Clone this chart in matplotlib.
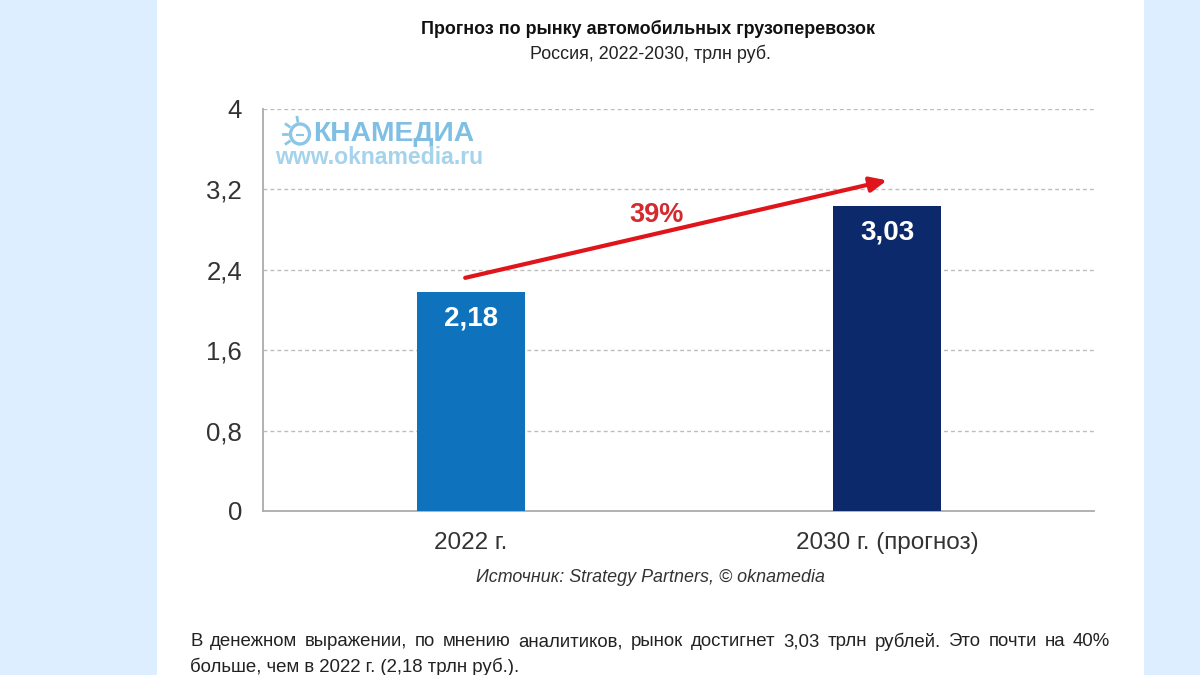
import matplotlib
matplotlib.use('Agg')
import matplotlib.pyplot as plt
from matplotlib.lines import Line2D
from matplotlib.patches import Ellipse, Rectangle
import math

plt.rcParams['font.family'] = ['Liberation Sans', 'DejaVu Sans']

categories = ['2022 г.', '2030 г. (прогноз)']
values = [2.18, 3.03]
value_labels = ['2,18', '3,03']
bar_colors = ['#0f72bd', '#0c2a6b']
y_ticks = [0, 0.8, 1.6, 2.4, 3.2, 4]
y_tick_labels = ['0', '0,8', '1,6', '2,4', '3,2', '4']
arrow_start = (-0.014, 2.32)
arrow_end = (1.0, 3.29)
arrow_label = '39%'
title = 'Прогноз по рынку автомобильных грузоперевозок'
subtitle = 'Россия, 2022-2030, трлн руб.'
source = 'Источник: Strategy Partners, © oknamedia'
para_line1 = 'В денежном выражении, по мнению аналитиков, рынок достигнет 3,03 трлн рублей. Это почти на 40%'
para_line2 = 'больше, чем в 2022 г. (2,18 трлн руб.).'

W, H = 1200, 675
fig = plt.figure(figsize=(12, 6.75), dpi=100, facecolor='#dceeff')


def fx(px):
    return px / W


def fy(py):
    return 1 - py / H


# white page panel
fig.add_artist(Rectangle((fx(157), 0), fx(1144 - 157), 1, transform=fig.transFigure,
                         facecolor='white', edgecolor='none', zorder=0))

ax = fig.add_axes([fx(263), fy(511), fx(1094 - 263), (511 - 109) / H])
ax.patch.set_alpha(0)
ax.set_xlim(-0.5, 1.4976)
ax.set_ylim(0, 4)

ax.bar([0, 1], values, width=0.26, color=bar_colors, zorder=3)
for i, lab in enumerate(value_labels):
    ax.text(i, values[i] - 0.26, lab, color='white', fontsize=20, fontweight='bold',
            ha='center', va='center', zorder=4)

for t in y_ticks[1:]:
    ax.axhline(t, color='#bdbdbd', lw=1.0, ls=(0, (2.8, 2.2)), zorder=1)

for s in ['top', 'right']:
    ax.spines[s].set_visible(False)
for s in ['left', 'bottom']:
    ax.spines[s].set_color('#ababab')
    ax.spines[s].set_linewidth(1.3)

ax.set_yticks(y_ticks)
ax.set_yticklabels(y_tick_labels, fontsize=18.5, color='#333333')
ax.set_xticks([0, 1])
ax.set_xticklabels(categories, fontsize=17.5, color='#333333')
ax.tick_params(axis='both', length=0)
ax.tick_params(axis='y', pad=15)
ax.tick_params(axis='x', pad=15)

ax.annotate('', xy=arrow_end, xytext=arrow_start, zorder=5,
            arrowprops=dict(arrowstyle='-|>,head_length=1.0,head_width=0.45',
                            color='#e0151b', lw=3.0, shrinkA=0, shrinkB=0))
ax.text(0.445, 2.95, arrow_label, color='#d42a2e', fontsize=19.5, fontweight='bold',
        ha='center', va='center', zorder=5)

# watermark: sun logo and the two lines of text
sun_color = '#8cc6e6'
sun_x, sun_y = 300, 134
fig.add_artist(Ellipse((fx(sun_x), fy(sun_y)), fx(19), 20 / H, transform=fig.transFigure,
                       facecolor='none', edgecolor=sun_color, lw=2.4))
for ang in [100, 145, 180, 215]:
    c, s = math.cos(math.radians(ang)), math.sin(math.radians(ang))
    fig.add_artist(Line2D([fx(sun_x + 13 * c), fx(sun_x + 17 * c)],
                          [fy(sun_y - 13 * s), fy(sun_y - 17 * s)],
                          transform=fig.transFigure, color=sun_color, lw=2))
fig.add_artist(Line2D([fx(sun_x - 3), fx(sun_x + 3)], [fy(sun_y + 1), fy(sun_y + 1)],
                      transform=fig.transFigure, color=sun_color, lw=1.5))
fig.text(fx(313), fy(134), 'КНАМЕДИА', color='#7fbfe3', fontsize=20.3, fontweight='bold',
         ha='left', va='center')
fig.text(fx(275), fy(158), 'www.oknamedia.ru', color='#a5d3ec', fontsize=16.6, fontweight='bold',
         ha='left', va='center')

fig.text(fx(648), fy(29), title, fontsize=12.9, fontweight='bold', color='#111111',
         ha='center', va='center')
fig.text(fx(650), fy(54), subtitle, fontsize=12.9, color='#222222', ha='center', va='center')
fig.text(fx(650), fy(577), source, fontsize=12.9, style='italic', color='#333333',
         ha='center', va='center')


def justified(line, left, right, y, fontsize):
    # matplotlib has no justify, so place the words one by one
    renderer = fig.canvas.get_renderer()
    words = line.split(' ')
    items = [fig.text(fx(left), fy(y), w, fontsize=fontsize, color='#222222', va='center') for w in words]
    widths = [t.get_window_extent(renderer).width for t in items]
    gap = (right - left - sum(widths)) / (len(words) - 1)
    x = left
    for t, w in zip(items, widths):
        t.set_x(fx(x))
        x += w + gap


justified(para_line1, 190, 1110, 642, 13.4)
fig.text(fx(190), fy(667), para_line2, fontsize=13.4, color='#222222', va='center')

fig.savefig('out.png', dpi=100, facecolor=fig.get_facecolor())
